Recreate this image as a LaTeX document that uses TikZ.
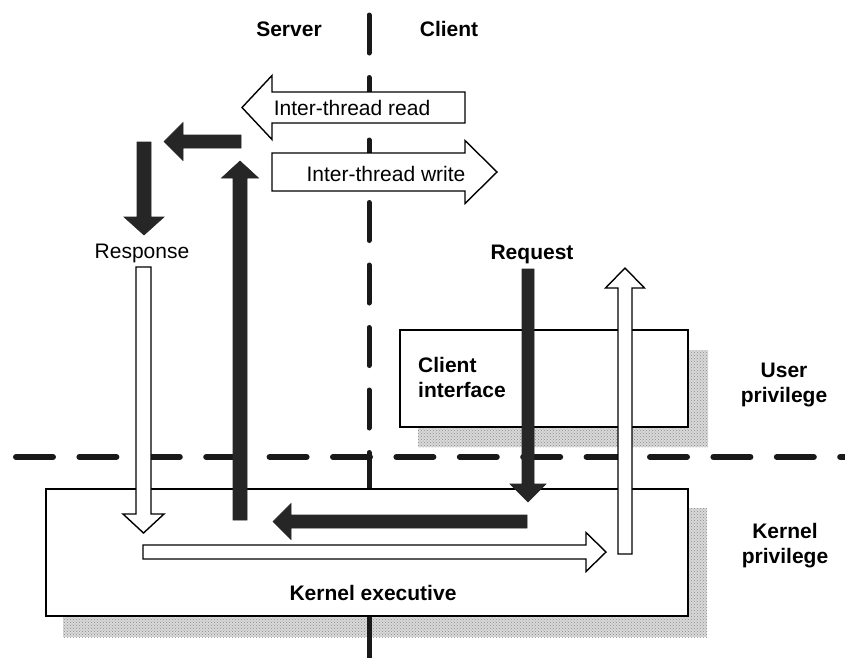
\documentclass[tikz,border=0pt]{standalone}
\usepackage{fontspec}
\setmainfont{Liberation Sans}
\usetikzlibrary{patterns}

% Block arrows: vertical  {style}{centre x}{half shaft}{tail y}{head base y}{tip y}{half head}
\newcommand\blockv[7]{\draw[#1] ({#2-#3},#4) -- ({#2+#3},#4) -- ({#2+#3},#5) -- ({#2+#7},#5)
  -- (#2,#6) -- ({#2-#7},#5) -- ({#2-#3},#5) -- cycle;}
% horizontal {style}{centre y}{half shaft}{tail x}{head base x}{tip x}{half head}
\newcommand\blockh[7]{\draw[#1] (#4,{#2-#3}) -- (#4,{#2+#3}) -- (#5,{#2+#3}) -- (#5,{#2+#7})
  -- (#6,#2) -- (#5,{#2-#7}) -- (#5,{#2-#3}) -- cycle;}

\begin{document}
\begin{tikzpicture}[x=1pt,y=-1pt,
  txt/.style={font=\fontsize{21}{25}\selectfont, inner sep=0pt},
  btxt/.style={font=\fontsize{21}{25}\selectfont\bfseries, inner sep=0pt},
  panel/.style={draw=black, line width=1.6pt, fill=white, inner sep=0pt},
  shadowfill/.style={fill=gray!30},
  shadowgrain/.style={pattern=crosshatch dots, pattern color=gray!90},
  solidarrow/.style={fill=black!85, draw=black!85, line width=0.6pt, line join=miter},
  hollowarrow/.style={fill=white, draw=black, line width=1.4pt, line join=miter},
  divider/.style={draw=black!90, line cap=round}]

\useasboundingbox (0,0) rectangle (845,657);

% shadows of the two panels
\fill[shadowfill] (418,350) rectangle (708,447);
\fill[shadowgrain] (418,350) rectangle (708,447);
\fill[shadowfill] (63,508) rectangle (707,637);
\fill[shadowgrain] (63,508) rectangle (707,637);

% server / client divider
\draw[divider, line width=5pt, dash pattern=on 38pt off 24.5pt] (369,15) -- (369,491);
\draw[draw=black!90, line width=5pt] (369,617) -- (369,660);

% panels
\node[panel, minimum width=288pt, minimum height=97pt] (cibox) at (544,378.5) {};
\node[panel, minimum width=642pt, minimum height=127pt] (kbox) at (367,552.5) {};

% user / kernel privilege divider
\draw[divider, line width=6pt, dash pattern=on 37pt off 26.4pt] (16,457) -- (852,457);

% inter-thread transfers
\blockh{hollowarrow}{107.5}{15.5}{465}{272}{242}{32}
\blockh{hollowarrow}{172}{19}{272}{465}{497}{31.5}

% server side flow
\blockh{solidarrow}{141.5}{6.5}{241}{183}{164}{19}
\blockv{solidarrow}{144}{7}{142}{217}{235}{20}
\blockv{solidarrow}{240}{7}{520}{178}{161}{18.5}
\blockv{hollowarrow}{143.5}{7.5}{267}{514}{533}{20.5}

% client side flow
\blockv{solidarrow}{528}{6}{269}{484}{502}{18}
\blockh{solidarrow}{521.5}{6.5}{527}{291}{273}{18}
\blockh{hollowarrow}{552}{7}{143}{586}{606}{19.5}
\blockv{hollowarrow}{625}{7}{554}{288}{268}{19.5}

% labels
\node[btxt] (server) at (289,29) {Server};
\node[btxt] (client) at (449,29) {Client};
\node[txt] (itread) at (352,108) {Inter-thread read};
\node[txt] (itwrite) at (386,174) {Inter-thread write};
\node[txt, anchor=base] (response) at (142,258) {Response};
\node[btxt, anchor=base] (request) at (532,259) {Request};
\node[btxt, anchor=west, align=left] (ciface) at (418,377) {Client\\interface};
\node[btxt, align=center] (userpriv) at (784,385) {User\\privilege};
\node[btxt, align=center] (kernpriv) at (785,546) {Kernel\\privilege};
\node[btxt] (kexec) at (373,593) {Kernel executive};
\end{tikzpicture}
\end{document}
